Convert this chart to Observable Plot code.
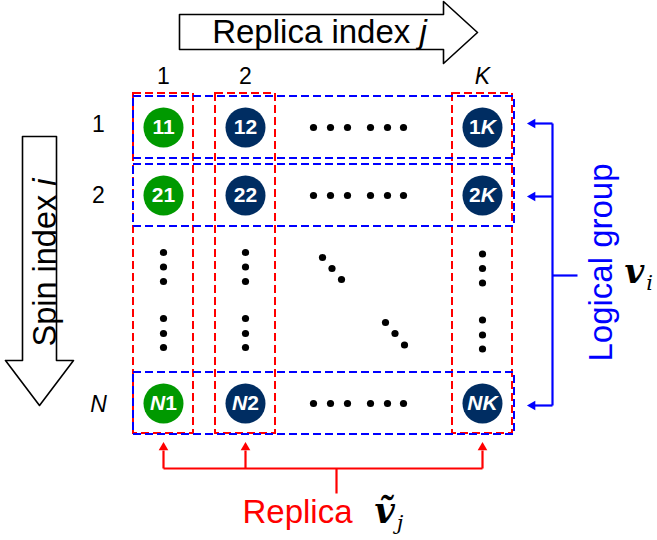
<!DOCTYPE html>
<html><head><meta charset="utf-8">
<script src="https://cdn.jsdelivr.net/npm/d3@7"></script>
<script src="https://cdn.jsdelivr.net/npm/@observablehq/plot@0.6"></script>
<style>html,body{margin:0;padding:0;background:#fff}svg{display:block}</style>
</head><body><div id="chart"></div>
<script>
// ---------- DATA (labels; _x_ marks italic) ----------
const colLabels = ["1", "2", "_K_"];
const rowLabels = ["1", "2", "_N_"];
const rowTokens = ["1", "2", "_N_"];
const colTokens = ["1", "2", "_K_"];
const axisTitles = ["Replica index _j_", "Spin index _i_"];
const groupTitles = ["Logical group", "Replica"];
const groupSymbols = ["v", "ṽ"];
const groupSubscripts = ["i", "j"];
const firstColumnColor = "#009900";
const otherColumnColor = "#002D62";

// ---------- LAYOUT ----------
const W = 657, H = 540;
const colX = [163, 245, 482];
const rowY = [127, 195, 403];
const cellR = 20;
const halfBoxW = 30, halfBoxH = 31;
const boxTop = 93, boxBottom = 433, boxLeft = 133, boxRight = 514;

const cells = [];
rowTokens.forEach((r, i) => colTokens.forEach((c, j) => cells.push({
  x: colX[j], y: rowY[i], label: r + c, fill: j === 0 ? firstColumnColor : otherColumnColor
})));

// ellipsis dots
const ellipsis = [];
const hOff = [0, 17, 34, 57, 74, 90];
rowY.forEach(y => hOff.forEach(o => ellipsis.push({x: 313 + o, y})));
const vOff = [0, 14.5, 29, 66, 81, 95];
colX.forEach((x, j) => vOff.forEach(o => ellipsis.push({x, y: 252 + o + (j === 2 ? 1.5 : 0)})));
[[322, 257], [331.5, 268], [341, 279], [385, 322], [394.5, 333], [404, 344.5]].forEach(([x, y]) => ellipsis.push({x, y}));

const redBoxes = colX.map(x => ({x1: x - halfBoxW, x2: x + halfBoxW, y1: boxTop, y2: boxBottom}));
const blueBoxes = rowY.map(y => ({x1: boxLeft, x2: boxRight, y1: y - halfBoxH, y2: y + halfBoxH}));

// outline arrows
const topArrow = [[179,14],[443,14],[443,1],[477,32],[443,63],[443,49],[179,49],[179,14]].map(([x,y])=>({x,y}));
const leftArrow = [[22,136],[56,136],[56,360],[73,360],[39,405],[5,360],[22,360],[22,136]].map(([x,y])=>({x,y}));

// bracket connectors
const redY = 468, redStemX = 336;
const blueTargets = [123, 196, 405];
const redLinks = [
  ...colX.map(x => ({x1: x, y1: 450, x2: x, y2: redY})),
  {x1: colX[0], y1: redY, x2: colX[2], y2: redY},
  {x1: redStemX, y1: redY, x2: redStemX, y2: 493}
];
const blueX = 552;
const blueLinks = [
  ...blueTargets.map(y => ({x1: 531, y1: y, x2: blueX, y2: y})),
  {x1: blueX, y1: blueTargets[0], x2: blueX, y2: blueTargets[2]},
  {x1: blueX, y1: 275, x2: 577, y2: 275}
];
const redHeads = colX.map(x => ({x, y: 447}));
const blueHeads = blueTargets.map(y => ({x: 532, y}));

const sans = "Liberation Sans, Arial, Helvetica, sans-serif";
const serif = "DejaVu Serif, serif";
// math label text: symbol|subscript
const mathLabels = groupSymbols.map((s, i) => s + "|" + groupSubscripts[i]);

const plot = Plot.plot({
  width: W, height: H, margin: 0,
  x: {domain: [0, W], range: [0, W], axis: null},
  y: {domain: [0, H], range: [0, H], axis: null},
  style: {fontFamily: sans, background: "#fff", overflow: "visible"},
  marks: [
    // outline arrows
    Plot.line(topArrow, {x: "x", y: "y", fill: "white", stroke: "black", strokeWidth: 1.6, curve: "linear"}),
    Plot.line(leftArrow, {x: "x", y: "y", fill: "white", stroke: "black", strokeWidth: 1.6, curve: "linear"}),
    Plot.text([axisTitles[0]], {x: 319, y: 42, text: d => d, fontSize: 33, lineAnchor: "bottom", textAnchor: "middle", fill: "black"}),
    Plot.text([axisTitles[1]], {x: 55, y: 262, text: d => d, fontSize: 32.5, rotate: -90, lineAnchor: "bottom", textAnchor: "middle", fill: "black"}),
    // dashed boxes
    Plot.rect(redBoxes, {x1: "x1", x2: "x2", y1: "y1", y2: "y2", fill: "none", stroke: "#ff0000", strokeWidth: 2, strokeDasharray: "8,4"}),
    Plot.rect(blueBoxes, {x1: "x1", x2: "x2", y1: "y1", y2: "y2", fill: "none", stroke: "#0000ff", strokeWidth: 2, strokeDasharray: "8,4"}),
    // cells
    Plot.dot(cells, {x: "x", y: "y", r: cellR, fill: "fill", stroke: null}),
    Plot.text(cells, {x: "x", y: "y", text: "label", fill: "white", fontWeight: "bold", fontSize: 21, lineAnchor: "middle"}),
    Plot.dot(ellipsis, {x: "x", y: "y", r: 3.6, fill: "black"}),
    // index labels
    Plot.text(colLabels, {x: (d, i) => colX[i], y: 83, text: d => d, fontSize: 23, lineAnchor: "bottom", fill: "black"}),
    Plot.text(rowLabels, {x: 98, y: (d, i) => [131, 202, 411][i], text: d => d, fontSize: 23, lineAnchor: "bottom", fill: "black"}),
    // connectors
    Plot.link(redLinks, {x1: "x1", y1: "y1", x2: "x2", y2: "y2", stroke: "#ff0000", strokeWidth: 2.2}),
    Plot.dot(redHeads, {x: "x", y: "y", symbol: "triangle2", r: 4.6, fill: "#ff0000"}),
    Plot.link(blueLinks, {x1: "x1", y1: "y1", x2: "x2", y2: "y2", stroke: "#0000ff", strokeWidth: 2.2}),
    Plot.dot(blueHeads, {x: "x", y: "y", symbol: "triangle2", r: 4.6, fill: "#0000ff", rotate: -90}),
    // group titles
    Plot.text([groupTitles[0]], {x: 611, y: 262, text: d => d, fontSize: 33, rotate: -90, lineAnchor: "bottom", textAnchor: "middle", fill: "#0000ff"}),
    Plot.text([groupTitles[1]], {x: 242, y: 522, text: d => d, fontSize: 33, lineAnchor: "bottom", textAnchor: "start", fill: "#ff0000"}),
    // math symbols
    Plot.text([mathLabels[0]], {x: 624, y: 282, text: d => d, fontSize: 34, fontFamily: serif, lineAnchor: "bottom", textAnchor: "start", fill: "black"}),
    Plot.text([mathLabels[1]], {x: 374, y: 522, text: d => d, fontSize: 35, fontFamily: serif, lineAnchor: "bottom", textAnchor: "start", fill: "black"})
  ]
});

const svg = d3.select(plot);
svg.selectAll("text").each(function() {
  const t = this.textContent;
  const sel = d3.select(this);
  if (t.includes("|")) {
    const [sym, sub] = t.split("|");
    sel.text("");
    sel.append("tspan").attr("font-weight", "bold").attr("font-style", "italic").text(sym);
    sel.append("tspan").attr("font-style", "italic").attr("font-size", 21).attr("dx", 2).attr("dy", 7).text(sub);
    return;
  }
  // rich text: _x_ -> italic tspan
  if (!t.includes("_")) return;
  const parts = t.split("_");
  sel.text("");
  parts.forEach((p, i) => { if (p) sel.append("tspan").attr("font-style", i % 2 ? "italic" : null).text(p); });
});
document.getElementById("chart").appendChild(plot);
</script>
</body></html>
